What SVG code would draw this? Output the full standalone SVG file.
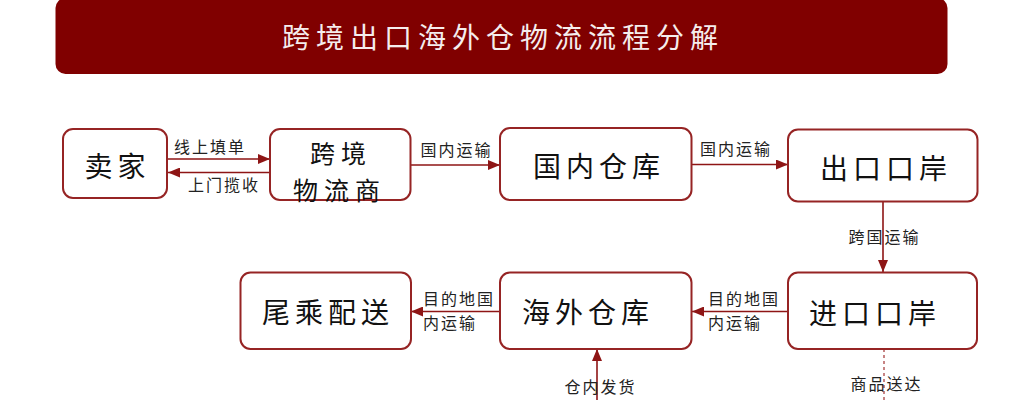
<svg xmlns="http://www.w3.org/2000/svg" width="1011" height="400" viewBox="0 0 1011 400">
<style>
.box{fill:#fff;stroke:#962424;stroke-width:2}
.bt{font-family:"Noto Sans CJK SC","Noto Sans",sans-serif;font-size:28px;fill:#111;letter-spacing:5px;dominant-baseline:central}
.bt2{font-family:"Noto Sans CJK SC","Noto Sans",sans-serif;font-size:25px;fill:#111;letter-spacing:6px;dominant-baseline:central}
.lb{font-family:"Noto Sans CJK SC","Noto Sans",sans-serif;font-size:16px;fill:#222;letter-spacing:2px;dominant-baseline:central}
.ln{fill:none;stroke:#8e1515;stroke-width:1.6}
.dash{fill:none;stroke:#b05050;stroke-width:1.4;stroke-dasharray:3 3}
</style>
<defs>
<marker id="ah" markerUnits="userSpaceOnUse" markerWidth="12" markerHeight="10" viewBox="0 0 12 10" refX="12" refY="5" orient="auto">
<path d="M0,0 L12,5 L0,10 z" fill="#8e1515"/>
</marker>
</defs>
<rect width="1011" height="400" fill="#fff"/>
<g id="title">
<rect x="55.5" y="-2" width="892" height="76" rx="10" fill="#800000"/>
<text x="503" y="36" text-anchor="middle" style="font-family:'Noto Sans CJK SC','Noto Sans',sans-serif;font-size:28px;fill:#f5eded;letter-spacing:6px;dominant-baseline:central">跨境出口海外仓物流流程分解</text>
</g>
<g id="connectors">
<path class="ln" d="M168,159 H270" marker-end="url(#ah)"/>
<path class="ln" d="M270,172.5 H168" marker-end="url(#ah)"/>
<path class="ln" d="M410,165 H500" marker-end="url(#ah)"/>
<path class="ln" d="M692,164.5 H788" marker-end="url(#ah)"/>
<path class="ln" d="M883,201 V272" marker-end="url(#ah)"/>
<path class="ln" d="M788,311.5 H692" marker-end="url(#ah)"/>
<path class="ln" d="M500,311.5 H411" marker-end="url(#ah)"/>
<path class="ln" d="M597,400 V349" marker-end="url(#ah)"/>
<path class="dash" d="M884,349 V400"/>
<text class="lb" x="210" y="146" text-anchor="middle">线上填单</text>
<text class="lb" x="224" y="184" text-anchor="middle">上门揽收</text>
<text class="lb" x="456.5" y="149" text-anchor="middle">国内运输</text>
<text class="lb" x="736" y="147.5" text-anchor="middle">国内运输</text>
<text class="lb" x="884.5" y="235.5" text-anchor="middle">跨国运输</text>
<text class="lb" x="423" y="298">目的地国</text>
<text class="lb" x="423" y="322">内运输</text>
<text class="lb" x="708" y="298">目的地国</text>
<text class="lb" x="708" y="322">内运输</text>
<text class="lb" x="600.5" y="385.5" text-anchor="middle">仓内发货</text>
<text class="lb" x="886.5" y="383" text-anchor="middle">商品送达</text>
</g>
<g id="n-seller">
<rect class="box" x="63" y="129" width="104" height="69" rx="10"/>
<text class="bt" x="117.5" y="165" text-anchor="middle">卖家</text>
</g>
<g id="n-logistics">
<rect class="box" x="270" y="129" width="140.5" height="71" rx="10"/>
<text class="bt2" x="341" y="152" text-anchor="middle">跨境</text>
<text class="bt2" x="339.5" y="188.5" text-anchor="middle">物流商</text>
</g>
<g id="n-domestic">
<rect class="box" x="500" y="128" width="191.5" height="72" rx="10"/>
<text class="bt" x="599" y="165" text-anchor="middle">国内仓库</text>
</g>
<g id="n-export">
<rect class="box" x="788" y="129.5" width="189.5" height="72" rx="10"/>
<text class="bt" x="886" y="167" text-anchor="middle">出口口岸</text>
</g>
<g id="n-lastmile">
<rect class="box" x="240.5" y="272.5" width="170.5" height="76.5" rx="10"/>
<text class="bt" x="328" y="311" text-anchor="middle">尾乘配送</text>
</g>
<g id="n-overseas">
<rect class="box" x="500" y="272.5" width="191.5" height="76.5" rx="10"/>
<text class="bt" x="588" y="311" text-anchor="middle">海外仓库</text>
</g>
<g id="n-import">
<rect class="box" x="788" y="272.5" width="189" height="76.5" rx="10"/>
<text class="bt" x="875" y="312" text-anchor="middle">进口口岸</text>
</g>
</svg>
